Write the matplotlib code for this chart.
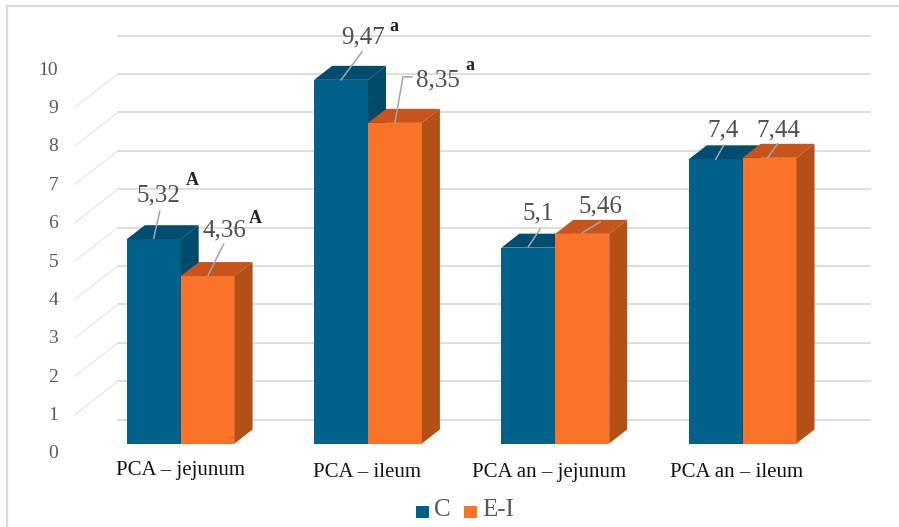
import matplotlib
matplotlib.use("Agg")
import matplotlib.pyplot as plt
from matplotlib.patches import Polygon, Rectangle

categories = ["PCA – jejunum", "PCA – ileum", "PCA an – jejunum", "PCA an – ileum"]
series_c = [5.32, 9.47, 5.1, 7.4]
series_ei = [4.36, 8.35, 5.46, 7.44]
marks_c = ["A", "a", "", ""]
marks_ei = ["A", "a", "", ""]
label_c = ["5,32", "9,47", "5,1", "7,4"]
label_ei = ["4,36", "8,35", "5,46", "7,44"]
ticks = list(range(0, 11))

W, H = 899, 527
PX_X, X0 = 187.3, 180.7
PX_Y, Y0 = 38.4, 443.5
fig = plt.figure(figsize=(W/100, H/100), dpi=100, facecolor="white")
ax = fig.add_axes([0, 0, 1, 1])
ax.set_xlim(-X0/PX_X, (W-X0)/PX_X)
ax.set_ylim((Y0-H)/PX_Y, Y0/PX_Y)
ax.axis("off")
SERIF = "Liberation Serif"
dx = lambda px: px/PX_X
dy = lambda px: px/PX_Y
bw = 53.9/PX_X
ddx, ddy = dx(18), dy(14)
GRID_SHIFT = dy(24)

# chart frame
for xs, ys in [((7, 7), (6, 527)), ((7, 899), (6, 6))]:
    ax.plot([(x-X0)/PX_X for x in xs], [(Y0-y)/PX_Y for y in ys], color="#dcdcdc", lw=1.6, zorder=1)

# back wall gridlines and side wall diagonals
for t in ticks:
    y = t + GRID_SHIFT
    ax.plot([(118-X0)/PX_X, (870-X0)/PX_X], [y, y], color="#dadada", lw=1.3, zorder=1)
    if 1 <= t <= 9:
        ax.plot([(75-X0)/PX_X, (118-X0)/PX_X], [y-dy(33.5), y], color="#e8e8e8", lw=1.0, zorder=1)
    ax.text((58-X0)/PX_X, t-dy(10.5), str(t), family=SERIF, fontsize=14, color="#595959",
            ha="right", va="center", zorder=5)

def bar3d(x, v, front, top, side):
    ax.add_patch(Rectangle((x, 0), bw, v, fc=front, ec="none", zorder=3))
    ax.add_patch(Polygon([(x, v), (x+bw, v), (x+bw+ddx, v+ddy), (x+ddx, v+ddy)], fc=top, ec="none", zorder=3))
    ax.add_patch(Polygon([(x+bw, 0), (x+bw+ddx, ddy), (x+bw+ddx, v+ddy), (x+bw, v)], fc=side, ec="none", zorder=3))

# (label centre, leader) offsets in pixels relative to the top centre of the bar
off_c = [((5, -44), [(0, -1), (6, -28)]), ((22, -42), [(0, 0), (21, -28)]),
         ((10, -34), [(0, -1), (12, -19)]), ((7, -29), [(0, 0), (8, -14)])]
off_e = [((17, -46), [(0, 0), (16, -32)]), ((43, -42), [(0, 0), (8, -46), (17, -46)]),
         ((18, -27), [(0, -1), (18, -12)]), ((9, -27), [(-2, 0), (8, -14)])]
mk_c = [(39, -59), (53, -53), None, None]
mk_e = [(48, -58), (75, -57), None, None]
cat_off = [(0, 27.5), (-1, 29), (-6, 29), (-6, 29)]

for i, cat in enumerate(categories):
    for j, (v, front, top, side, lab, off, mk, mark) in enumerate([
        (series_c[i], "#00618a", "#004d70", "#004a6a", label_c[i], off_c[i], mk_c[i], marks_c[i]),
        (series_ei[i], "#fa7328", "#c8541c", "#b25016", label_ei[i], off_e[i], mk_e[i], marks_ei[i]),
    ]):
        x = i - bw if j == 0 else i
        bar3d(x, v, front, top, side)
        cx = x + bw/2
        pts = off[1]
        ax.plot([cx+dx(p[0]) for p in pts], [v-dy(p[1]) for p in pts], color="#a6a6a6", lw=1.1, zorder=4)
        ax.text(cx+dx(off[0][0]), v-dy(off[0][1]), lab, family=SERIF, fontsize=18, color="#4f4f4f",
                ha="center", va="center", zorder=5)
        if mark:
            ax.text(cx+dx(mk[0]), v-dy(mk[1]), mark, family=SERIF, fontsize=13, color="#222222",
                    fontweight="bold", ha="center", va="center", zorder=5)
    ax.text(i+dx(cat_off[i][0]), -dy(cat_off[i][1]), cat, family=SERIF, fontsize=15, color="#111111",
            ha="center", va="center", zorder=5)

# legend
for px, col, name, tx in [(416, "#00618a", "C", 434), (464, "#fa7328", "E-I", 482)]:
    ax.add_patch(Rectangle(((px-X0)/PX_X, (Y0-518)/PX_Y), dx(12.5), dy(12.5), fc=col, ec="none", zorder=3))
    ax.text((tx-X0)/PX_X, (Y0-510)/PX_Y, name, family=SERIF, fontsize=18, color="#595959",
            ha="left", va="center", zorder=5)

fig.savefig("out.png", dpi=100, facecolor="white")
